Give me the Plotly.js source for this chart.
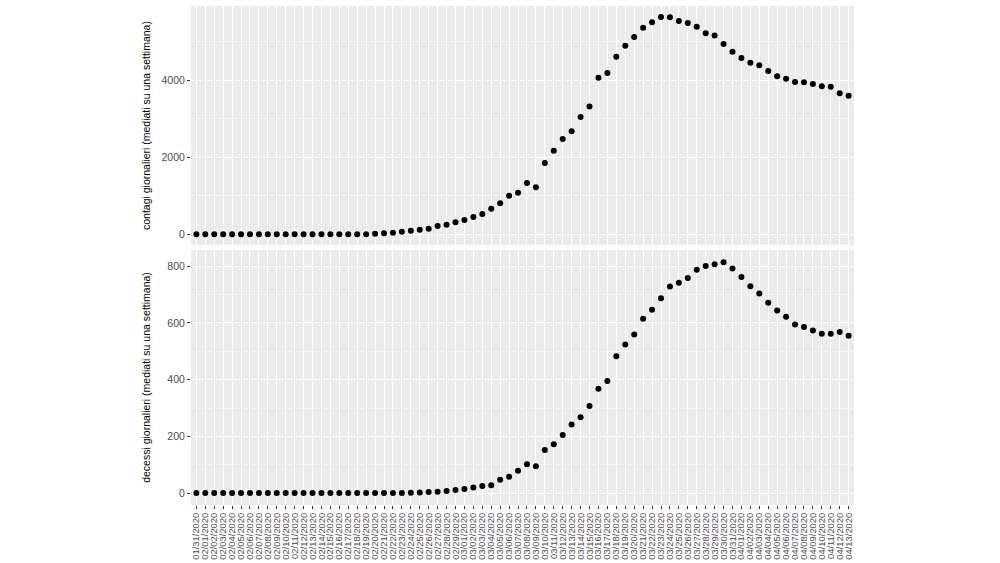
<!DOCTYPE html>
<html>
<head>
<meta charset="utf-8">
<script src="https://cdn.plot.ly/plotly-3.0.1.min.js"></script>
<style>html,body{margin:0;padding:0;background:#fff;}#chart{width:1000px;height:563px;}</style>
</head>
<body>
<div id="chart"></div>
<script>
var dates = ["01/31/2020","02/01/2020","02/02/2020","02/03/2020","02/04/2020","02/05/2020","02/06/2020","02/07/2020","02/08/2020","02/09/2020",
"02/10/2020","02/11/2020","02/12/2020","02/13/2020","02/14/2020","02/15/2020","02/16/2020","02/17/2020","02/18/2020","02/19/2020",
"02/20/2020","02/21/2020","02/22/2020","02/23/2020","02/24/2020","02/25/2020","02/26/2020","02/27/2020","02/28/2020","02/29/2020",
"03/01/2020","03/02/2020","03/03/2020","03/04/2020","03/05/2020","03/06/2020","03/07/2020","03/08/2020","03/09/2020","03/10/2020",
"03/11/2020","03/12/2020","03/13/2020","03/14/2020","03/15/2020","03/16/2020","03/17/2020","03/18/2020","03/19/2020","03/20/2020",
"03/21/2020","03/22/2020","03/23/2020","03/24/2020","03/25/2020","03/26/2020","03/27/2020","03/28/2020","03/29/2020","03/30/2020",
"03/31/2020","04/01/2020","04/02/2020","04/03/2020","04/04/2020","04/05/2020","04/06/2020","04/07/2020","04/08/2020","04/09/2020",
"04/10/2020","04/11/2020","04/12/2020","04/13/2020"];

var contagi = [0,0,0,0,0,0,0,0,0,0,
0,0,0,0,0,0,0,0,0,0,
17,26,43,69,95,121,147,216,251,312,
372,450,528,667,805,1004,1082,1333,1221,1853,
2173,2476,2675,3047,3316,4069,4190,4614,4900,5125,
5367,5506,5644,5636,5540,5489,5393,5220,5160,4943,
4744,4580,4458,4389,4242,4103,4043,3956,3948,3904,
3844,3835,3662,3601];

var decessi = [0,0,0,0,0,0,0,0,0,0,
0,0,0,0,0,0,0,0,0,0,
0,0,0,0,1,2,4,5,7,11,
14,20,25,28,47,58,79,102,95,152,
172,205,242,267,307,368,395,482,524,559,
615,646,687,728,742,758,787,801,807,814,
792,762,729,704,671,644,622,594,586,573,
562,562,568,555];

var yTicksTop = [0, 2000, 4000];
var yTicksBottom = [0, 200, 400, 600, 800];
var titleTop = "contagi giornalieri (mediati su una settimana)";
var titleBottom = "decessi giornalieri (mediati su una settimana)";

var FONT = "Liberation Sans, Arial, Helvetica, sans-serif";
var marker = {color: "#000000", size: 6, symbol: "circle"};

var traces = [
  {x: dates, y: contagi, type: "scatter", mode: "markers", marker: marker, xaxis: "x", yaxis: "y", hoverinfo: "x+y"},
  {x: dates, y: decessi, type: "scatter", mode: "markers", marker: marker, xaxis: "x2", yaxis: "y2", hoverinfo: "x+y"}
];

function xax(showLabels, anchor) {
  return {
    type: "category", categoryorder: "array", categoryarray: dates,
    range: [-0.6, dates.length - 0.4],
    anchor: anchor, domain: [0, 1],
    showgrid: true, gridcolor: "#FFFFFF", gridwidth: 1,
    zeroline: false, showline: false,
    tickmode: "array", tickvals: dates, ticktext: dates,
    showticklabels: showLabels,
    ticks: showLabels ? "outside" : "", ticklen: 3, tickwidth: 1, tickcolor: "#333333",
    tickangle: -90,
    tickfont: {family: FONT, size: 9.4, color: "#4D4D4D"},
    fixedrange: true
  };
}
function yax(domain, range, ticks, minorDtick, title, standoff, anchor) {
  return {
    domain: domain, range: range, anchor: anchor,
    tickmode: "array", tickvals: ticks, ticktext: ticks.map(String),
    showgrid: true, gridcolor: "#FFFFFF", gridwidth: 1,
    minor: {tickmode: "linear", tick0: 0, dtick: minorDtick, showgrid: true, gridcolor: "#FFFFFF", gridwidth: 0.55, ticks: ""},
    zeroline: false, showline: false,
    ticks: "outside", ticklen: 3, tickwidth: 1, tickcolor: "#333333",
    tickfont: {family: FONT, size: 10.5, color: "#4D4D4D"},
    title: {text: title, font: {family: FONT, size: 10.5, color: "#000000"}, standoff: standoff},
    automargin: false,
    fixedrange: true
  };
}

var layout = {
  width: 1000, height: 563,
  margin: {l: 191, r: 146, t: 6, b: 58, pad: 0},
  paper_bgcolor: "#FFFFFF", plot_bgcolor: "#EBEBEB",
  showlegend: false,
  xaxis: xax(false, "y"),
  xaxis2: xax(true, "y2"),
  yaxis: yax([0.521, 1], [-278, 5929], yTicksTop, 1000, titleTop, 8, "x"),
  yaxis2: yax([0, 0.511], [-42, 857], yTicksBottom, 100, titleBottom, 14, "x2"),
  font: {family: FONT}
};

Plotly.newPlot("chart", traces, layout, {displayModeBar: false, staticPlot: true});
</script>
</body>
</html>
